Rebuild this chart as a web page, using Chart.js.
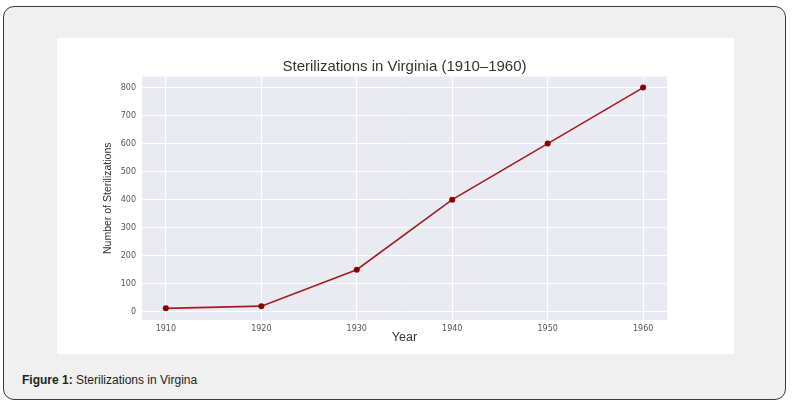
<!DOCTYPE html>
<html>
<head>
<meta charset="utf-8">
<script src="https://cdn.jsdelivr.net/npm/chart.js@4"></script>
<style>
  body { margin: 0; background: #fff; width: 799px; height: 406px; position: relative; overflow: hidden; }
  #frame {
    position: absolute; left: 3px; top: 6px; width: 781px; height: 392px;
    border: 1px solid #3a3a3a; border-radius: 11px; background: #f0f0f0;
  }
  #box { position: absolute; left: 57px; top: 38px; width: 677px; height: 316px; background: #fff; }
  #caption {
    position: absolute; left: 22px; top: 373px;
    font: 12px "Liberation Sans", Arial, sans-serif; color: #222;
  }
</style>
</head>
<body>
<div id="frame"></div>
<div id="box"><canvas id="chart" width="677" height="316"></canvas></div>
<div id="caption"><b>Figure 1:</b> Sterilizations in Virgina</div>
<script>
const years = [1910, 1920, 1930, 1940, 1950, 1960];
const sterilizations = [12, 20, 150, 400, 600, 800];
const yTicks = [0, 100, 200, 300, 400, 500, 600, 700, 800];

const plotBg = {
  id: 'plotBg',
  // center the title over the plot area, like matplotlib does
  afterLayout(chart) {
    const t = chart.titleBlock, a = chart.chartArea;
    if (t) { t.left = a.left; t.right = a.right; t.width = a.right - a.left; }
  },
  beforeDraw(chart) {
    const a = chart.chartArea, c = chart.ctx;
    c.save();
    c.fillStyle = '#eaeaf2';
    c.fillRect(a.left, a.top, a.right - a.left, a.bottom - a.top);
    c.restore();
  }
};

let ctx = document.getElementById('chart');

new Chart(ctx, {
  type: 'line',
  data: {
    datasets: [{
      data: years.map((y, i) => ({ x: y, y: sterilizations[i] })),
      borderColor: '#a11d1d',
      borderWidth: 1.6,
      pointBackgroundColor: '#8b0000',
      pointBorderWidth: 0,
      pointRadius: 3,
      tension: 0
    }]
  },
  plugins: [plotBg],
  options: {
    responsive: false,
    animation: false,
    layout: { padding: { right: 67 } },
    plugins: {
      legend: { display: false },
      tooltip: { enabled: false },
      title: {
        display: true,
        text: 'Sterilizations in Virginia (1910–1960)',
        color: '#333',
        font: { family: 'Liberation Sans', size: 15, weight: 'normal', lineHeight: 1.1 },
        padding: { top: 21, bottom: 1 }
      }
    },
    scales: {
      x: {
        type: 'linear',
        min: 1907.5,
        max: 1962.5,
        afterBuildTicks: s => { s.ticks = years.map(v => ({ value: v })); },
        afterFit: s => { s.height = 34; },
        grid: { color: '#ffffff', lineWidth: 1, drawTicks: false },
        border: { display: false },
        ticks: {
          padding: 4,
          color: '#555',
          font: { family: 'DejaVu Sans', size: 8 },
          callback: v => String(v)
        },
        title: {
          display: true,
          text: 'Year',
          color: '#333',
          font: { family: 'Liberation Sans', size: 12.5 },
          padding: { bottom: 9, top: 0 }
        }
      },
      y: {
        min: -29.5,
        max: 839.5,
        afterBuildTicks: s => { s.ticks = yTicks.map(v => ({ value: v })); },
        afterFit: s => { s.width = 85; },
        grid: { color: '#ffffff', lineWidth: 1, drawTicks: false },
        border: { display: false },
        ticks: {
          padding: 6,
          color: '#555',
          font: { family: 'DejaVu Sans', size: 8 }
        },
        title: {
          display: true,
          text: 'Number of Sterilizations',
          color: '#333',
          font: { family: 'Liberation Sans', size: 10.5 },
          padding: { top: 45, bottom: 0 }
        }
      }
    }
  }
});
</script>
</body>
</html>
